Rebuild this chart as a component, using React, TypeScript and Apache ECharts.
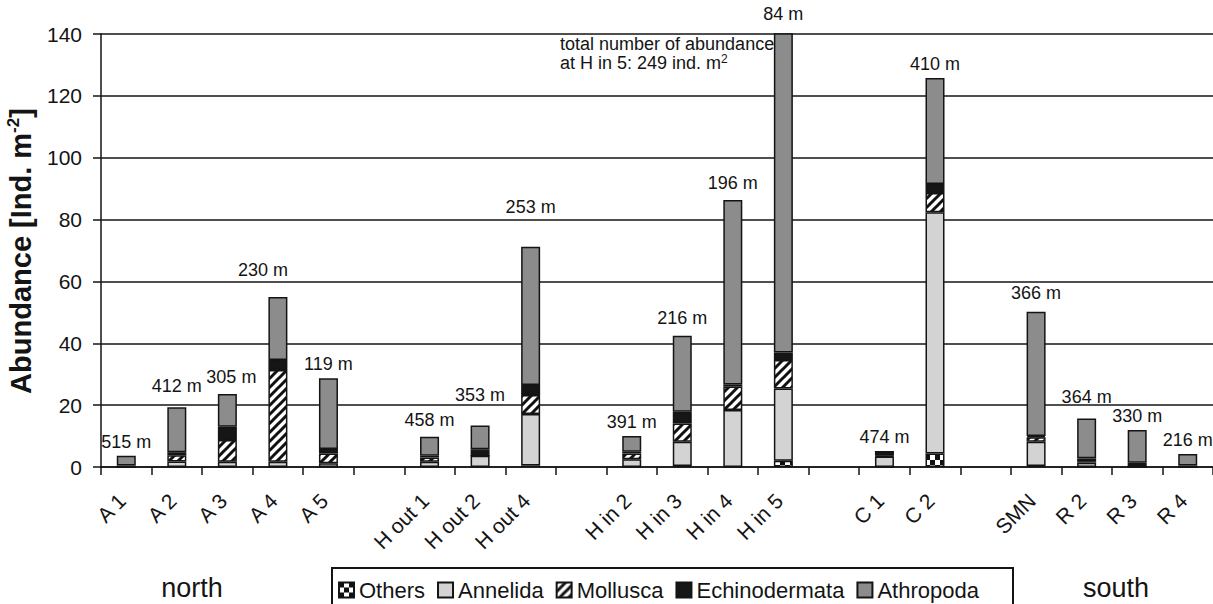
import React, { useEffect, useRef } from 'react';
import * as echarts from 'echarts';

const categories = ['A 1', 'A 2', 'A 3', 'A 4', 'A 5', '', 'H out 1', 'H out 2', 'H out 4', '', 'H in 2', 'H in 3', 'H in 4', 'H in 5', '', 'C 1', 'C 2', '', 'SMN', 'R 2', 'R 3', 'R 4'];
const others = [0, 0, 0, 0, 0, null, 0, 0, 0.5, null, 0, 0.3, 0, 2.0, null, 0, 4.4, null, 0.3, 0, 0, 0];
const annelida = [0, 1.8, 1.7, 1.7, 1.2, null, 1.7, 3.6, 16.6, null, 2.5, 7.9, 18.4, 23.4, null, 3.4, 78.0, null, 7.9, 1.4, 0.2, 0];
const mollusca = [0, 2.0, 7.0, 29.7, 3.2, null, 1.4, 0, 6.2, null, 1.9, 5.9, 7.6, 9.2, null, 0.2, 6.2, null, 1.4, 0.5, 0, 0];
const echinodermata = [0.5, 1.0, 4.3, 3.2, 1.4, null, 0.5, 2.1, 3.2, null, 0.5, 3.8, 0.7, 2.4, null, 1.3, 2.9, null, 0.4, 0.9, 1.2, 0.5];
const athropoda = [3.1, 14.5, 10.6, 20.4, 22.9, null, 6.2, 7.7, 44.7, null, 5.1, 24.5, 59.6, 212, null, 0, 34.3, null, 40.2, 12.9, 10.6, 3.7];
const depths = ['515 m', '412 m', '305 m', '230 m', '119 m', '', '458 m', '353 m', '253 m', '', '391 m', '216 m', '196 m', '84 m', '', '474 m', '410 m', '', '366 m', '364 m', '330 m', '216 m'];
const yTicks = { min: 0, max: 140, interval: 20 };

// label placement tweaks (style, not data)
const labelOffsets: Record<number, [number, number]> = {
  1: [0, -7], 2: [4, -3], 3: [-15, -13], 6: [0, -3], 7: [0, -17], 8: [0, -26],
  11: [0, -4], 12: [0, -3], 13: [0, -5], 18: [0, -5], 19: [0, -7],
};

const FONT = '"Liberation Sans", Arial, Helvetica, sans-serif';
const INK = '#141414';

function makeHatch() {
  const c = document.createElement('canvas');
  const s = 9;
  c.width = s; c.height = s;
  const g = c.getContext('2d')!;
  g.fillStyle = '#ffffff';
  g.fillRect(0, 0, s, s);
  g.strokeStyle = '#111111';
  g.lineWidth = 3;
  g.lineCap = 'square';
  for (const o of [-s, 0, s]) {
    g.beginPath();
    g.moveTo(o, s);
    g.lineTo(o + s, 0);
    g.stroke();
  }
  return c;
}

function makeChecker() {
  const c = document.createElement('canvas');
  const s = 10;
  c.width = s; c.height = s;
  const g = c.getContext('2d')!;
  g.fillStyle = '#ffffff';
  g.fillRect(0, 0, s, s);
  g.fillStyle = '#111111';
  g.fillRect(0, 0, s / 2, s / 2);
  g.fillRect(s / 2, s / 2, s / 2, s / 2);
  return c;
}

export default function App() {
  const ref = useRef<HTMLDivElement>(null);
  useEffect(() => {
    if (!ref.current) return;
    const chart = echarts.init(ref.current, null, { renderer: 'svg' });
    const hatch = { image: makeHatch(), repeat: 'repeat' };
    const checker = { image: makeChecker(), repeat: 'repeat' };
    const border = { borderColor: INK, borderWidth: 1.5 };
    const mk = (name: string, data: any[], color: any, extra: any = {}) => ({
      name,
      type: 'bar',
      stack: 'total',
      barWidth: 19,
      data,
      itemStyle: { color, ...border },
      emphasis: { disabled: true },
      ...extra,
    });
    const athroData = athropoda.map((v, i) => {
      if (v === null) return null;
      const off = labelOffsets[i];
      return off ? { value: v, label: { offset: off } } : v;
    });
    chart.setOption({
      animation: false,
      textStyle: { fontFamily: FONT, color: INK },
      grid: { left: 101, right: 0, top: 34, bottom: 137, containLabel: false },
      legend: {
        data: ['Others', 'Annelida', 'Mollusca', 'Echinodermata', 'Athropoda'],
        left: 338,
        top: 579,
        padding: 0,
        itemGap: 12,
        itemWidth: 15,
        itemHeight: 15,
        icon: 'rect',
        textStyle: { fontSize: 22, color: INK, fontFamily: FONT },
        selectedMode: false,
      },
      xAxis: {
        type: 'category',
        data: categories,
        axisLine: { lineStyle: { color: INK, width: 1.5 } },
        axisTick: { show: true, interval: 0, length: 8, lineStyle: { color: INK, width: 1.5 } },
        axisLabel: { interval: 0, rotate: 45, fontSize: 21, color: INK, margin: 26, padding: [0, 6, 0, 0], fontFamily: FONT },
      },
      yAxis: {
        type: 'value',
        min: yTicks.min,
        max: yTicks.max,
        interval: yTicks.interval,
        axisLine: { show: true, lineStyle: { color: INK, width: 1.5 } },
        axisTick: { show: true, length: 8, lineStyle: { color: INK, width: 1.5 } },
        axisLabel: { fontSize: 21, color: INK, margin: 19, fontFamily: FONT },
        splitLine: { show: true, lineStyle: { color: INK, width: 1.5 } },
      },
      series: [
        mk('Others', others, checker),
        mk('Annelida', annelida, '#d3d3d3'),
        mk('Mollusca', mollusca, hatch),
        mk('Echinodermata', echinodermata, '#161616'),
        mk('Athropoda', athroData, '#8c8c8c', {
          label: {
            show: true,
            position: 'top',
            distance: 5,
            fontSize: 18,
            color: INK,
            fontFamily: FONT,
            formatter: (p: any) => depths[p.dataIndex],
          },
        }),
      ],
      graphic: [
        {
          type: 'rect',
          shape: { x: 332, y: 568, width: 681, height: 44 },
          style: { fill: 'none', stroke: INK, lineWidth: 2 },
          silent: true,
        },
        {
          type: 'text',
          x: 192,
          y: 588,
          style: { text: 'north', fontSize: 27, fontFamily: FONT, fill: INK, align: 'center', verticalAlign: 'middle' },
        },
        {
          type: 'text',
          x: 1116,
          y: 588,
          style: { text: 'south', fontSize: 27, fontFamily: FONT, fill: INK, align: 'center', verticalAlign: 'middle' },
        },
        {
          type: 'text',
          x: 21,
          y: 251,
          rotation: Math.PI / 2,
          style: {
            text: '{a|Abundance [Ind. m}{s|-2}{a|]}',
            align: 'center',
            verticalAlign: 'middle',
            fill: INK,
            rich: {
              a: { fontSize: 29, fontWeight: 'bold', fontFamily: FONT, fill: INK, lineHeight: 32 },
              s: { fontSize: 17, fontWeight: 'bold', fontFamily: FONT, fill: INK, verticalAlign: 'top', lineHeight: 19 },
            },
          },
        },
        {
          type: 'text',
          x: 560,
          y: 34,
          style: {
            text: '{a|total number of abundance}\n{a|at H in 5: 249 ind. m}{s|2}',
            align: 'left',
            verticalAlign: 'top',
            fill: INK,
            rich: {
              a: { fontSize: 18, fontFamily: FONT, fill: INK, lineHeight: 19 },
              s: { fontSize: 12, fontFamily: FONT, fill: INK, verticalAlign: 'top', lineHeight: 13 },
            },
          },
        },
      ],
    });
    return () => chart.dispose();
  }, []);
  return (
    <div
      ref={ref}
      style={{ position: 'fixed', left: 0, top: 0, width: 1213, height: 604, background: '#fff' }}
    />
  );
}
